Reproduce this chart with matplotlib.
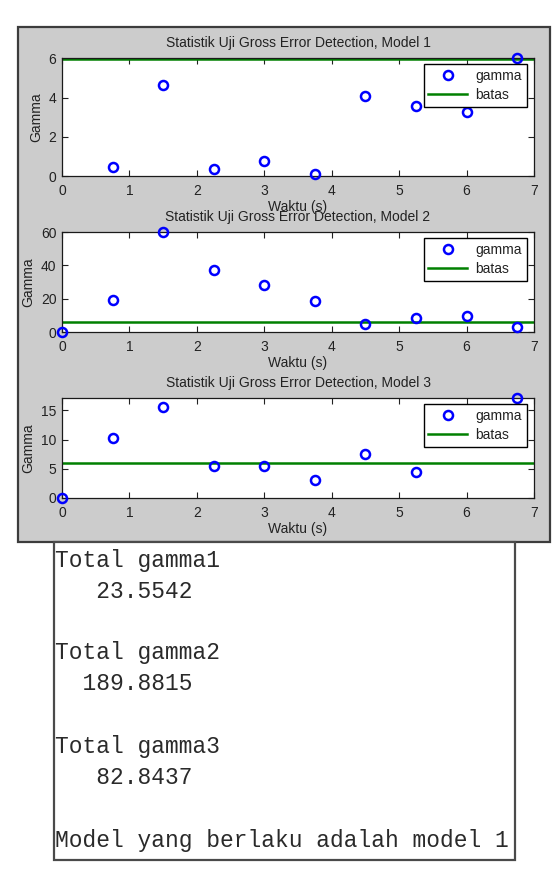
"""Gross error detection statistic for three models, with the MATLAB console summary below."""

import matplotlib
matplotlib.use("Agg")
import matplotlib.pyplot as plt
from matplotlib.patches import Rectangle
import numpy as np

plt.rcParams["font.family"] = ["Liberation Sans", "DejaVu Sans"]

# --- data ---
waktu = [0, 0.75, 1.5, 2.25, 3.0, 3.75, 4.5, 5.25, 6.0, 6.75]
gamma1 = [np.nan, 0.47, 4.63, 0.36, 0.78, 0.10, 4.08, 3.59, 3.27, 6.03]
gamma2 = [0.0, 19.5, 60.0, 37.4, 28.4, 18.9, 5.0, 8.3, 9.5, 3.2]
gamma3 = [0.0, 10.3, 15.5, 5.4, 5.4, 3.0, 7.6, 4.5, 14.0, 17.1]
batas = 5.99
yticks = [[0, 2, 4, 6], [0, 20, 40, 60], [0, 5, 10, 15]]
titles = ["Statistik Uji Gross Error Detection, Model %d" % k for k in (1, 2, 3)]
totals = [23.5542, 189.8815, 82.8437]
model_terpilih = 1

W, H = 558, 892


def fx(px):
    return px / W


def fy(py):
    return 1 - py / H


fig = plt.figure(figsize=(W / 100, H / 100), dpi=100)

# MATLAB figure panel (gray) and console box, behind the axes
fig.patches.append(Rectangle((fx(18), fy(542)), fx(550) - fx(18), fy(27) - fy(542),
                             transform=fig.transFigure, facecolor="#cccccc",
                             edgecolor="#3c3c3c", lw=1.6, zorder=-10))
fig.patches.append(Rectangle((fx(54), fy(860)), fx(515) - fx(54), fy(542) - fy(860),
                             transform=fig.transFigure, facecolor="white",
                             edgecolor="#4a4a4a", lw=1.6, zorder=-10))

# axes boxes in pixels: (top, bottom)
boxes = [(58, 176), (232, 332), (398, 498)]
left, right = 62, 534
ink = "#222222"

for k, (g, (top, bot)) in enumerate(zip([gamma1, gamma2, gamma3], boxes)):
    ax = fig.add_axes([fx(left), fy(bot), fx(right) - fx(left), fy(top) - fy(bot)])
    ax.set_facecolor("white")
    ax.plot(waktu, g, "o", ls="none", color="#0000ff", ms=6.5, mew=1.8, mfc="none",
            clip_on=False, label="gamma", zorder=3)
    ax.axhline(batas, color="#008000", lw=1.8, label="batas", zorder=2)
    ax.set_xlim(0, 7)
    ax.set_ylim(0, np.nanmax(g))
    ax.set_xticks(range(8))
    ax.set_yticks(yticks[k])
    ax.tick_params(direction="in", top=True, right=True, length=4, width=0.8,
                   labelsize=10, colors=ink)
    ax.tick_params(axis="x", pad=6)
    ax.tick_params(axis="y", pad=4)
    for s in ax.spines.values():
        s.set_color("#1a1a1a")
        s.set_linewidth(0.9)
    ax.set_title(titles[k], fontsize=10, color=ink, pad=8)
    ax.set_xlabel("Waktu (s)", fontsize=10, color=ink, labelpad=1)
    ax.set_ylabel("Gamma", fontsize=10, color=ink, labelpad=4)
    leg = ax.legend(loc="upper right", bbox_to_anchor=(1 - 7 / (right - left), 1 - 6 / (bot - top)),
                    borderaxespad=0, fontsize=10, fancybox=False, framealpha=1,
                    edgecolor="black", handlelength=2.8, handletextpad=0.6,
                    labelspacing=0.35, borderpad=0.35)
    leg.get_frame().set_linewidth(1.0)
    leg.set_zorder(10)
    for t in leg.get_texts():
        t.set_color(ink)

# console output
mono = ["Liberation Mono", "DejaVu Sans Mono"]
lines = []
for k, v in enumerate(totals):
    lines.append("Total gamma%d" % (k + 1))
    lines.append("%10.4f" % v)
lines.append("Model yang berlaku adalah model %d" % model_terpilih)
ys = [560, 591, 653, 684, 747, 777, 840]
for s, y in zip(lines, ys):
    fig.text(fx(55), fy(y), s, family=mono, fontsize=16.5, color="#2a2a2a",
             ha="left", va="center")

fig.savefig("out.png", dpi=100)
